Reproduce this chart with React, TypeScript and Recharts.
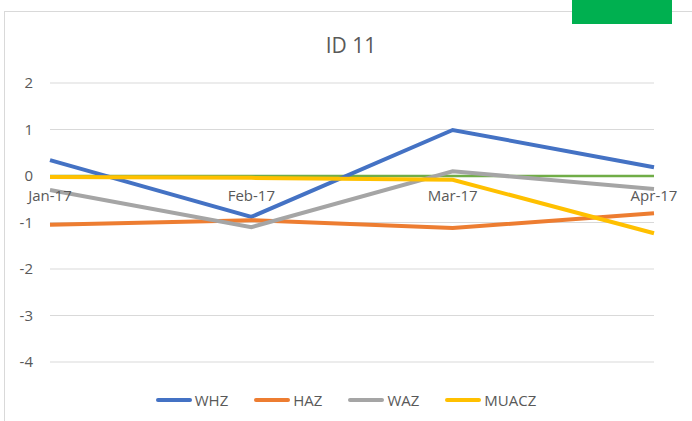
import React from 'react'
import { LineChart, Line, XAxis, YAxis, CartesianGrid, Legend, ReferenceLine, ReferenceDot } from 'recharts'

const months = ['Jan-17', 'Feb-17', 'Mar-17', 'Apr-17']
const whz = [0.34, -0.88, 0.99, 0.19]
const haz = [-1.05, -0.95, -1.12, -0.8]
const waz = [-0.3, -1.1, 0.1, -0.28]
const muacz = [-0.02, -0.04, -0.08, -1.23]
const yTicks = [-4, -3, -2, -1, 0, 1, 2]

const series = [
  { key: 'WHZ', values: whz, color: '#4472C4' },
  { key: 'HAZ', values: haz, color: '#ED7D31' },
  { key: 'WAZ', values: waz, color: '#A5A5A5' },
  { key: 'MUACZ', values: muacz, color: '#FFC000' },
]

const data = months.map((m, i) => {
  const row: Record<string, string | number> = { month: m }
  series.forEach((s) => {
    row[s.key] = s.values[i]
  })
  return row
})

const font = '"Open Sans", "Liberation Sans", sans-serif'
const textColor = '#595959'

// keep the legend in series order (recharts sorts it by name otherwise)
const renderLegend = () => (
  <div style={{ display: 'flex', justifyContent: 'center', gap: 26, fontFamily: font, fontSize: 15, color: textColor }}>
    {series.map((s) => (
      <div key={s.key} style={{ display: 'flex', alignItems: 'center' }}>
        <span style={{ display: 'inline-block', width: 36, height: 4, borderRadius: 2, background: s.color, marginRight: 3 }} />
        <span>{s.key}</span>
      </div>
    ))}
  </div>
)

export default function App() {
  return (
    <div style={{ position: 'fixed', left: 0, top: 0, width: 692, height: 421, overflow: 'hidden', background: '#fff' }}>
      <div style={{ position: 'absolute', left: 4, top: 11, width: 800, height: 500, border: '1px solid #d9d9d9' }} />
      <div style={{ position: 'absolute', left: 572, top: 0, width: 100, height: 24, background: '#00B050' }} />
      <div
        style={{
          position: 'absolute',
          left: 0,
          top: 31,
          width: 702,
          textAlign: 'center',
          fontFamily: font,
          fontSize: 21,
          color: textColor,
        }}
      >
        ID 11
      </div>
      <div style={{ position: 'absolute', left: 0, top: 0 }}>
        <LineChart width={692} height={421} data={data} margin={{ top: 83, right: 38, bottom: 59, left: 0 }}>
          <CartesianGrid vertical={false} stroke="#d9d9d9" />
          <XAxis dataKey="month" hide padding={{ left: 0, right: 0 }} />
          <YAxis
            domain={[-4, 2]}
            ticks={yTicks}
            width={50}
            axisLine={false}
            tickLine={false}
            tickSize={0}
            tickMargin={17}
            tick={{ fill: textColor, fontSize: 15, fontFamily: font }}
          />
          <ReferenceLine y={0} stroke="#70AD47" strokeWidth={2.5} />
          {series.map((s) => (
            <Line
              key={s.key}
              type="linear"
              dataKey={s.key}
              stroke={s.color}
              strokeWidth={4}
              dot={false}
              isAnimationActive={false}
            />
          ))}
          {months.map((m) => (
            <ReferenceDot
              key={m}
              x={m}
              y={0}
              r={0}
              fill="none"
              stroke="none"
              label={{ value: m, position: 'bottom', offset: 14, fill: textColor, fontSize: 15, fontFamily: font }}
            />
          ))}
          <Legend
            verticalAlign="middle"
            content={renderLegend}
            wrapperStyle={{ top: 390, left: 0, width: 692 }}
          />
        </LineChart>
      </div>
    </div>
  )
}
